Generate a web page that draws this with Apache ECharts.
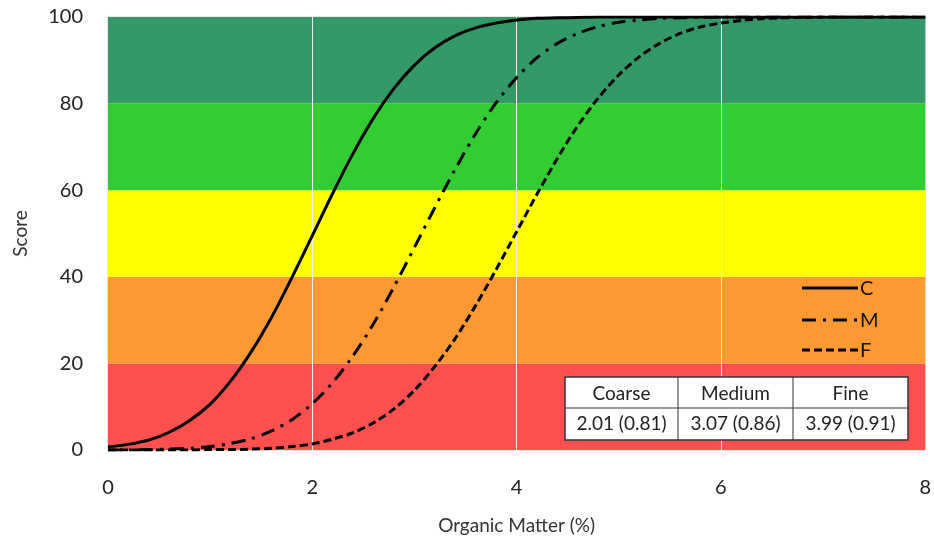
<!DOCTYPE html>
<html><head><meta charset="utf-8">
<script src="https://cdn.jsdelivr.net/npm/echarts@6/dist/echarts.min.js"></script>
<style>html,body{margin:0;padding:0;background:#fff}#c{width:934px;height:540px}</style>
</head><body><div id="c"></div>
<script>
const xs = [0,0.2,0.4,0.6,0.8,1.0,1.2,1.4,1.6,1.8,2.0,2.2,2.4,2.6,2.8,3.0,3.2,3.4,3.6,3.8,4.0,4.2,4.4,4.6,4.8,5.0,5.2,5.4,5.6,5.8,6.0,6.2,6.4,6.6,6.8,7.0,7.2,7.4,7.6,7.8,8.0];
const coarse = [0.7,1.3,2.3,4.1,6.8,10.6,15.9,22.6,30.6,39.8,49.5,59.3,68.5,76.7,83.5,88.9,92.9,95.7,97.5,98.6,99.3,99.7,99.8,99.9,100,100,100,100,100,100,100,100,100,100,100,100,100,100,100,100,100];
const medium = [0.0,0.0,0.1,0.2,0.4,0.8,1.5,2.6,4.4,7.0,10.7,15.6,21.8,29.2,37.7,46.8,56.0,64.9,73.1,80.2,86.0,90.6,93.9,96.2,97.8,98.8,99.3,99.7,99.8,99.9,100,100,100,100,100,100,100,100,100,100,100];
const fine = [0.0,0.0,0.0,0.0,0.0,0.1,0.1,0.2,0.4,0.8,1.4,2.5,4.0,6.3,9.5,13.8,19.3,25.8,33.4,41.7,50.4,59.1,67.4,74.9,81.3,86.6,90.8,93.9,96.2,97.7,98.6,99.2,99.6,99.8,99.9,100,100,100,100,100,100];
const bands = [[0,20,'#FF5050'],[20,40,'#FF9933'],[40,60,'#FFFF00'],[60,80,'#33CC33'],[80,100,'#339966']];
const gridXs = [2,4,6];
const seriesNames = ['C','M','F'];
const tableHead = ['Coarse','Medium','Fine'];
const tableVals = ['2.01 (0.81)','3.07 (0.86)','3.99 (0.91)'];
const FONT = 'Lato';
const dashes = [null,[14,7,3,7],[8,4]];

const chart = echarts.init(document.getElementById('c'));
const pair = arr => xs.map((x,i)=>[x,arr[i]]);

const tg = [];
// legend (manual)
const ly = [288,320,350];
seriesNames.forEach((n,i)=>{
  tg.push({type:'line', shape:{x1:802,y1:ly[i],x2:858,y2:ly[i]}, style:{stroke:'#000',lineWidth:3,lineDash:dashes[i]||null}, z:100});
  tg.push({type:'text', x:860, y:ly[i]+1, style:{text:n,font:'20px '+FONT,fill:'#111',verticalAlign:'middle'}, z:100});
});
// table graphic
const tx = 565, ty = 377, cw = [113,115,115], rh = [31,32];
let cx = tx;
tg.push({type:'rect', shape:{x:tx,y:ty,width:cw[0]+cw[1]+cw[2],height:rh[0]+rh[1]}, style:{fill:'#fff',stroke:'#333',lineWidth:1.5}, z:100});
tg.push({type:'line', shape:{x1:tx,y1:ty+rh[0],x2:tx+cw[0]+cw[1]+cw[2],y2:ty+rh[0]}, style:{stroke:'#333',lineWidth:1}, z:101});
for (let i=0;i<3;i++){
  if (i>0) tg.push({type:'line', shape:{x1:cx,y1:ty,x2:cx,y2:ty+rh[0]+rh[1]}, style:{stroke:'#333',lineWidth:1}, z:101});
  tg.push({type:'text', x:cx+cw[i]/2, y:ty+rh[0]/2+1, style:{text:tableHead[i],font:'19px '+FONT,fill:'#222',align:'center',verticalAlign:'middle'}, z:102});
  tg.push({type:'text', x:cx+cw[i]/2, y:ty+rh[0]+rh[1]/2, style:{text:tableVals[i],font:'19px '+FONT,fill:'#222',align:'center',verticalAlign:'middle'}, z:102});
  cx += cw[i];
}

chart.setOption({
  animation:false,
  textStyle:{fontFamily:FONT},
  grid:{left:108,right:8,top:17,bottom:88,show:true,borderColor:'#ccc',borderWidth:1},
  xAxis:{type:'value',min:0,max:8,interval:2,name:'Organic Matter (%)',nameLocation:'middle',nameGap:66,
    nameTextStyle:{fontSize:19,color:'#333'},
    axisLine:{show:false},axisTick:{show:false},splitLine:{show:false},
    axisLabel:{fontSize:20,color:'#222',margin:28}},
  yAxis:{type:'value',min:0,max:100,interval:20,name:'Score',nameLocation:'middle',nameGap:78,
    nameTextStyle:{fontSize:19,color:'#333'},
    axisLine:{show:false},axisTick:{show:false},splitLine:{show:false},
    axisLabel:{fontSize:20,color:'#222',margin:25}},
  graphic: tg,
  series:[
    {type:'line',name:'bands',data:[],silent:true,
     markArea:{silent:true,data:bands.map(b=>[{yAxis:b[0],itemStyle:{color:b[2],opacity:1}},{yAxis:b[1]}])},
     markLine:{silent:true,symbol:'none',label:{show:false},lineStyle:{color:'#eee',width:1,type:'solid'},data:gridXs.map(v=>({xAxis:v}))}},
    {type:'line',name:seriesNames[0],data:pair(coarse),smooth:0.3,showSymbol:false,symbol:'none',z:5,
     lineStyle:{color:'#000',width:3,type:'solid'}},
    {type:'line',name:seriesNames[1],data:pair(medium),smooth:0.3,showSymbol:false,symbol:'none',z:5,
     lineStyle:{color:'#000',width:3,type:dashes[1]}},
    {type:'line',name:seriesNames[2],data:pair(fine),smooth:0.3,showSymbol:false,symbol:'none',z:5,
     lineStyle:{color:'#000',width:3,type:dashes[2]}}
  ]
});
</script></body></html>
